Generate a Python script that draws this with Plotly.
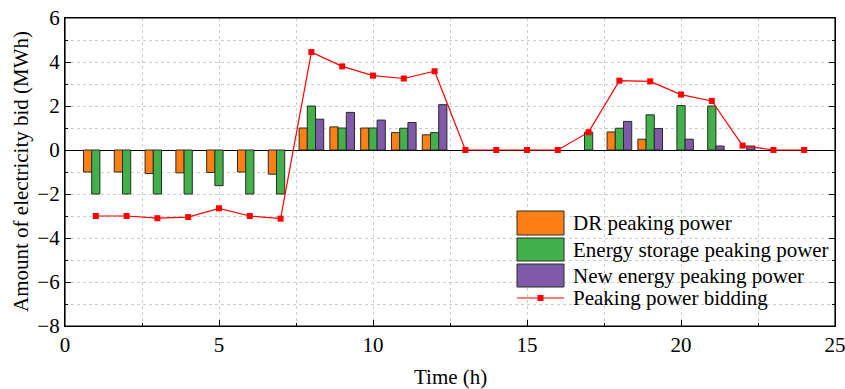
import plotly.graph_objects as go

hours = list(range(1, 25))
dr_power = [-1.0, -1.0, -1.07, -1.04, -1.02, -1.0, -1.1,
            1.0, 1.05, 1.0, 0.79, 0.69,
            None, None, None, None,
            None, 0.82, 0.49, None, None, None, None, None]
storage_power = [-2.0, -2.0, -2.0, -2.0, -1.62, -2.0, -2.0,
                 2.0, 1.0, 1.0, 0.99, 0.79,
                 None, None, None, None,
                 0.81, 0.99, 1.6, 2.02, 2.0, None, None, None]
new_energy_power = [None, None, None, None, None, None, None,
                    1.4, 1.71, 1.36, 1.25, 2.06,
                    None, None, None, None,
                    None, 1.3, 0.98, 0.49, 0.18, 0.18, None, None]
bidding = [-3.0, -3.0, -3.1, -3.05, -2.65, -3.0, -3.12,
           4.45, 3.8, 3.38, 3.25, 3.58,
           0, 0, 0, 0,
           0.81, 3.15, 3.12, 2.52, 2.23, 0.2, 0, 0]

names = ["DR peaking power", "Energy storage peaking power",
         "New energy peaking power", "Peaking power bidding"]
colors = ["#FF8012", "#43B14A", "#7F5AA8", "#FF0000"]

FONT = "Liberation Serif"
FS = 21
W, H = 845, 389
L, R, T, B = 65, 10, 18, 63

fig = go.Figure()
for vals, name, col in zip([dr_power, storage_power, new_energy_power], names[:3], colors[:3]):
    fig.add_trace(go.Bar(x=hours, y=vals, name=name, showlegend=False,
                         marker=dict(color=col, line=dict(color="#2a2a2a", width=1))))
fig.add_trace(go.Scatter(x=hours, y=bidding, name=names[3], mode="lines+markers", showlegend=False,
                         line=dict(color=colors[3], width=1.2),
                         marker=dict(symbol="square", size=6, color=colors[3])))

pw = W - L - R
ph = H - T - B
def px2x(p):
    return (p - L) / pw
def py2y(p):
    return (H - B - p) / ph

# manual legend
rows = [(211, 235), (238, 261), (264, 287)]
for (y0, y1), col in zip(rows, colors[:3]):
    fig.add_shape(type="rect", xref="paper", yref="paper",
                  x0=px2x(517), x1=px2x(564), y0=py2y(y1), y1=py2y(y0),
                  fillcolor=col, line=dict(color="#2a2a2a", width=1))
ly = 298
fig.add_shape(type="line", xref="paper", yref="paper",
              x0=px2x(517), x1=px2x(564), y0=py2y(ly), y1=py2y(ly),
              line=dict(color=colors[3], width=1.2))
fig.add_shape(type="rect", xref="paper", yref="paper",
              x0=px2x(537.5), x1=px2x(543.5), y0=py2y(ly + 3), y1=py2y(ly - 3),
              fillcolor=colors[3], line=dict(width=0))
text_y = [223, 249.5, 275.5, ly]
for name, ty in zip(names, text_y):
    fig.add_annotation(text=name, xref="paper", yref="paper", x=px2x(571), y=py2y(ty),
                       xanchor="left", yanchor="middle", showarrow=False,
                       font=dict(family=FONT, size=FS, color="black"))

# axis titles
fig.add_annotation(text="Time (h)", xref="paper", yref="paper", x=0.5, y=py2y(377),
                   xanchor="center", yanchor="middle", showarrow=False,
                   font=dict(family=FONT, size=FS, color="black"))
fig.add_annotation(text="Amount of electricity bid (MWh)", xref="paper", yref="paper",
                   x=px2x(21), y=py2y(172), textangle=-90,
                   xanchor="center", yanchor="middle", showarrow=False,
                   font=dict(family=FONT, size=FS, color="black"))

# frame
fig.add_shape(type="rect", xref="paper", yref="paper", x0=0, x1=1, y0=0, y1=1,
              line=dict(color="black", width=1.2), layer="above")

grid = dict(gridcolor="#cccccc", griddash="3px,3px", gridwidth=1)
fig.update_layout(
    width=W, height=H, margin=dict(l=L, r=R, t=T, b=B, autoexpand=False),
    plot_bgcolor="white", paper_bgcolor="white",
    barmode="group", bargap=0.2, bargroupgap=0,
    font=dict(family=FONT, size=FS, color="black"),
    xaxis=dict(range=[0, 25], dtick=5, tick0=0, showgrid=True, **grid, automargin=False,
               ticklabeloverflow="allow",
               ticks="inside", ticklen=6, tickcolor="black", showline=True, linecolor="black",
               linewidth=1.2, mirror=True, zeroline=False,
               minor=dict(dtick=2.5, ticks="inside", ticklen=3, tickcolor="black",
                          showgrid=True, **grid)),
    yaxis=dict(range=[-8, 6], dtick=2, tick0=0, showgrid=True, **grid, automargin=False,
               ticklabeloverflow="allow",
               ticks="inside", ticklen=6, tickcolor="black", showline=True, linecolor="black",
               linewidth=1.2, mirror="ticks", zeroline=True, zerolinecolor="black", zerolinewidth=1.2,
               minor=dict(dtick=1, ticks="inside", ticklen=3, tickcolor="black",
                          showgrid=True, **grid)),
)

fig.write_html("out.html")
